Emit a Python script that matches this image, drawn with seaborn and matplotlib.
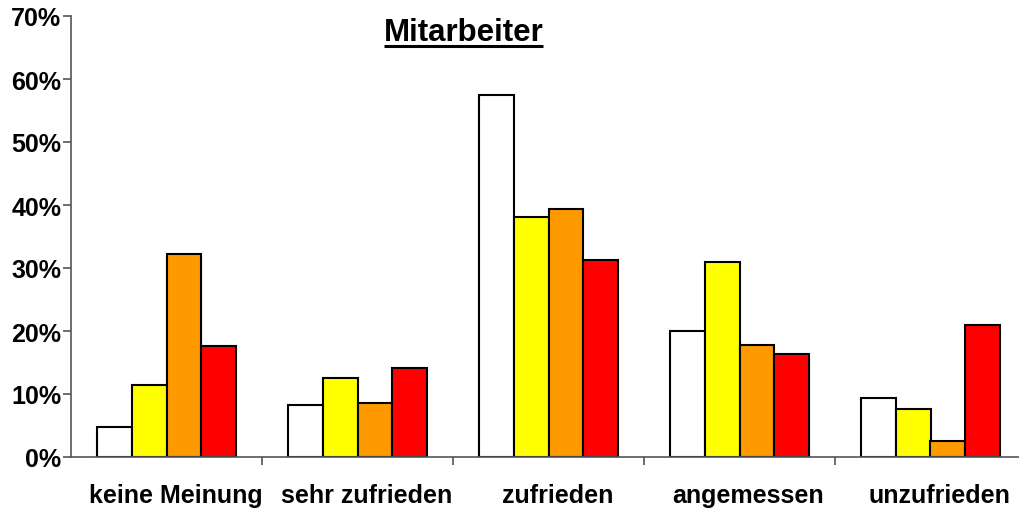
import numpy as np
import pandas as pd
import matplotlib
matplotlib.use("Agg")
import matplotlib.pyplot as plt
import matplotlib.transforms as mtransforms
from matplotlib.lines import Line2D
from matplotlib.ticker import FixedLocator, PercentFormatter
import seaborn as sns

categories = ["keine Meinung", "sehr zufrieden", "zufrieden", "angemessen", "unzufrieden"]
series_names = ["Gruppe 1", "Gruppe 2", "Gruppe 3", "Gruppe 4"]
values_1 = [4.8, 8.2, 57.5, 20.0, 9.4]
values_2 = [11.4, 12.5, 38.1, 31.0, 7.6]
values_3 = [32.3, 8.5, 39.4, 17.8, 2.6]
values_4 = [17.6, 14.2, 31.2, 16.3, 20.9]
colors = ["#FFFFFF", "#FFFF00", "#FF9900", "#FF0000"]
title = "Mitarbeiter"

sns.set_theme(style="white")
plt.rcParams["font.family"] = ["Liberation Sans", "DejaVu Sans"]
plt.rcParams["font.weight"] = "bold"

rows = []
for name, vals in zip(series_names, [values_1, values_2, values_3, values_4]):
    for c, v in zip(categories, vals):
        rows.append({"Kategorie": c, "Serie": name, "Wert": v})
df = pd.DataFrame(rows)

fig = plt.figure(figsize=(10.19, 5.10), dpi=100)
W, H = 1019, 510
ax = fig.add_axes([71 / W, 52 / H, 955 / W, 441 / H])

sns.barplot(data=df, x="Kategorie", y="Wert", hue="Serie", order=categories,
            hue_order=series_names, palette=colors, saturation=1, width=0.73,
            edgecolor="black", linewidth=1.5, ax=ax, legend=False)

ax.set_xlim(-0.5, len(categories) - 0.5)
ax.set_ylim(0, 70)
ax.set_yticks(np.arange(0, 71, 10))
ax.yaxis.set_major_formatter(PercentFormatter(decimals=0))
ax.set_xlabel("")
ax.set_ylabel("")

for s in ["top", "right"]:
    ax.spines[s].set_visible(False)
for s in ["left", "bottom"]:
    ax.spines[s].set_color("#555555")
    ax.spines[s].set_linewidth(1.2)

ax.tick_params(axis="y", which="major", left=True, length=6, width=1.2, color="#555555",
               pad=1, labelsize=18)
ax.tick_params(axis="x", which="major", bottom=False, length=0, pad=19, labelsize=18)
ax.xaxis.set_minor_locator(FixedLocator(np.arange(0.5, len(categories) - 0.5, 1.0)))
ax.tick_params(axis="x", which="minor", bottom=True, length=6, width=1.2, color="#555555")
for lab in ax.get_xticklabels() + ax.get_yticklabels():
    lab.set_fontweight("bold")
    lab.set_color("black")
offset = mtransforms.ScaledTranslation(9 / 100, 0, fig.dpi_scale_trans)
for lab in ax.get_xticklabels():
    lab.set_transform(lab.get_transform() + offset)

t = fig.text(463.5 / W, (H - 41) / H, title, ha="center", va="baseline",
             fontsize=22.5, fontweight="bold", color="black")
fig.canvas.draw()
bb = t.get_window_extent(renderer=fig.canvas.get_renderer())
uy = (H - 46.5) / H
fig.add_artist(Line2D([bb.x0 / W, bb.x1 / W], [uy, uy], transform=fig.transFigure,
                      color="black", linewidth=2.2, solid_capstyle="butt"))

fig.savefig("out.png", dpi=100, facecolor="white")
